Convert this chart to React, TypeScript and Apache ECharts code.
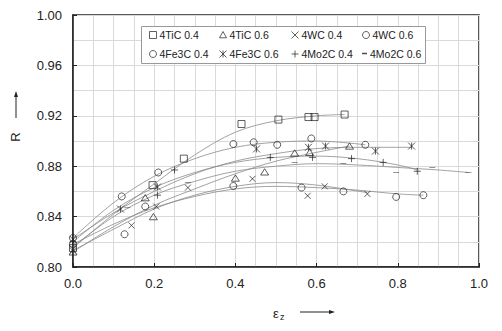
import React, { useEffect, useRef } from "react";
import * as echarts from "echarts";

const FONT = "Liberation Sans, Arial, sans-serif";

const seriesNames = ["4TiC 0.4", "4TiC 0.6", "4WC 0.4", "4WC 0.6", "4Fe3C 0.4", "4Fe3C 0.6", "4Mo2C 0.4", "4Mo2C 0.6"];

// measured points (x = strain, y = R)
const tic04X = [0, 0.196, 0.273, 0.415, 0.506, 0.58, 0.595, 0.669];
const tic04Y = [0.815, 0.865, 0.886, 0.9135, 0.917, 0.919, 0.919, 0.921];
const tic06X = [0, 0.178, 0.198, 0.4, 0.472, 0.546, 0.583, 0.681];
const tic06Y = [0.812, 0.855, 0.84, 0.8706, 0.8755, 0.8905, 0.891, 0.896];
const wc04X = [0, 0.144, 0.205, 0.283, 0.442, 0.578, 0.62, 0.725];
const wc04Y = [0.813, 0.833, 0.848, 0.863, 0.87, 0.8565, 0.864, 0.858];
const wc06X = [0, 0.12, 0.21, 0.395, 0.445, 0.503, 0.587, 0.72];
const wc06Y = [0.823, 0.856, 0.875, 0.8976, 0.899, 0.897, 0.902, 0.897];
const fe04X = [0, 0.127, 0.178, 0.395, 0.563, 0.666, 0.796, 0.863];
const fe04Y = [0.818, 0.826, 0.848, 0.8643, 0.863, 0.86, 0.8556, 0.857];
const fe06X = [0, 0.117, 0.208, 0.452, 0.58, 0.622, 0.745, 0.834];
const fe06Y = [0.822, 0.846, 0.8635, 0.8937, 0.895, 0.896, 0.892, 0.896];
const mo04X = [0, 0.208, 0.25, 0.486, 0.59, 0.686, 0.764, 0.848];
const mo04Y = [0.82, 0.857, 0.877, 0.887, 0.887, 0.886, 0.883, 0.876];
const mo06X = [0, 0.134, 0.283, 0.546, 0.666, 0.796, 0.885, 0.974];
const mo06Y = [0.816, 0.847, 0.867, 0.883, 0.882, 0.875, 0.879, 0.875];

// trend curves
const trTic04X = [0, 0.1, 0.2, 0.3, 0.4, 0.5, 0.6, 0.669];
const trTic04Y = [0.815, 0.842, 0.866, 0.889, 0.907, 0.916, 0.92, 0.921];
const trTic06X = [0, 0.1, 0.2, 0.3, 0.4, 0.5, 0.6, 0.681];
const trTic06Y = [0.812, 0.832, 0.849, 0.862, 0.874, 0.884, 0.891, 0.896];
const trWc04X = [0, 0.1, 0.2, 0.3, 0.4, 0.5, 0.6, 0.725];
const trWc04Y = [0.813, 0.83, 0.846, 0.857, 0.864, 0.867, 0.865, 0.859];
const trWc06X = [0, 0.1, 0.2, 0.3, 0.4, 0.5, 0.6, 0.72];
const trWc06Y = [0.823, 0.851, 0.872, 0.886, 0.895, 0.899, 0.9, 0.897];
const trFe04X = [0, 0.1, 0.2, 0.3, 0.4, 0.5, 0.6, 0.7, 0.8, 0.863];
const trFe04Y = [0.818, 0.834, 0.847, 0.856, 0.862, 0.864, 0.863, 0.861, 0.858, 0.857];
const trFe06X = [0, 0.1, 0.2, 0.3, 0.4, 0.5, 0.6, 0.7, 0.834];
const trFe06Y = [0.822, 0.843, 0.86, 0.874, 0.884, 0.89, 0.894, 0.895, 0.895];
const trMo04X = [0, 0.1, 0.2, 0.3, 0.4, 0.5, 0.6, 0.7, 0.8, 0.848];
const trMo04Y = [0.82, 0.845, 0.863, 0.875, 0.883, 0.887, 0.888, 0.886, 0.881, 0.877];
const trMo06X = [0, 0.1, 0.2, 0.3, 0.4, 0.5, 0.6, 0.7, 0.8, 0.9, 0.974];
const trMo06Y = [0.816, 0.84, 0.857, 0.868, 0.876, 0.88, 0.882, 0.881, 0.879, 0.877, 0.875];

const xTicks = [0, 0.2, 0.4, 0.6, 0.8, 1.0];
const yTicks = [0.8, 0.84, 0.88, 0.92, 0.96, 1.0];

const SQ = "path://M0,0L10,0L10,10L0,10Z";
const TRI = "path://M5,0L10,9L0,9Z";
const XS = "path://M0,0L10,10M10,0L0,10";
const AST = "path://M0,0L10,10M10,0L0,10M5,0L5,10";
const PLUS = "path://M5,0L5,10M0,5L10,5";
const DASH = "path://M0,0L10,0L10,3L0,3Z";

const pts = [
  [tic04X, tic04Y], [tic06X, tic06Y], [wc04X, wc04Y], [wc06X, wc06Y],
  [fe04X, fe04Y], [fe06X, fe06Y], [mo04X, mo04Y], [mo06X, mo06Y],
];
const trends = [
  [trTic04X, trTic04Y], [trTic06X, trTic06Y], [trWc04X, trWc04Y], [trWc06X, trWc06Y],
  [trFe04X, trFe04Y], [trFe06X, trFe06Y], [trMo04X, trMo04Y], [trMo06X, trMo06Y],
];
const symbols: any[] = [SQ, TRI, XS, "circle", "circle", AST, PLUS, DASH];
const sizes: any[] = [7, [8, 7], 6, 7, 7, 7, 7, [6, 2]];

// legend layout (columns and rows of the boxed legend)
const legendCols = [147, 217, 289, 360];
const legendRows = [29, 48];

const zip = (xs: number[], ys: number[]) => xs.map((x, i) => [x, ys[i]]);

export default function App() {
  const ref = useRef<HTMLDivElement>(null);
  useEffect(() => {
    if (!ref.current) return;
    const chart = echarts.init(ref.current, null, { renderer: "svg" });
    const ink = "#222";
    const gridColor = "#d9d9d9";
    const series: any[] = [];
    trends.forEach(([xs, ys], i) => {
      series.push({
        type: "line",
        name: "trend" + i,
        data: zip(xs, ys),
        smooth: 0.35,
        showSymbol: false,
        symbol: "none",
        silent: true,
        z: 2,
        lineStyle: { color: "#8a8a8a", width: 0.8 },
      });
    });
    pts.forEach(([xs, ys], i) => {
      const isDash = i === 7;
      series.push({
        type: "scatter",
        name: seriesNames[i],
        data: zip(xs, ys),
        symbol: symbols[i],
        symbolSize: sizes[i],
        symbolKeepAspect: true,
        z: 3,
        itemStyle: isDash
          ? { color: ink, borderColor: ink, borderWidth: 0 }
          : { color: "none", borderColor: ink, borderWidth: 0.9 },
      });
    });
    const legends = seriesNames.map((name, i) => {
      const isDash = i === 7;
      return {
        data: [name],
        left: legendCols[i % 4] + (isDash ? 2 : 0),
        top: legendRows[Math.floor(i / 4)],
        padding: 0,
        itemGap: 0,
        itemWidth: isDash ? 5 : 7,
        itemHeight: isDash ? 2 : 7,
        z: 5,
        selectedMode: false,
        itemStyle: { borderWidth: isDash ? 0 : 0.9 },
        textStyle: { fontSize: 10.5, color: ink, fontFamily: FONT, padding: [0, 0, 0, -2] },
      };
    });
    chart.setOption({
      animation: false,
      grid: {
        left: 73, right: 23, top: 15, bottom: 64,
        show: true, borderColor: ink, borderWidth: 1.5, backgroundColor: "transparent",
      },
      xAxis: {
        type: "value", min: 0, max: 1, interval: 0.2,
        axisLine: { show: true, onZero: false, lineStyle: { color: ink, width: 1.5 } },
        axisTick: { show: true, inside: true, length: 4, lineStyle: { color: ink } },
        axisLabel: {
          margin: 10, fontSize: 13, color: ink, fontFamily: FONT,
          formatter: (v: number) => {
            const t = xTicks.find((k) => Math.abs(k - v) < 1e-6);
            return t === undefined ? "" : t.toFixed(1);
          },
        },
        splitLine: { show: true, lineStyle: { color: gridColor, width: 1 } },
        minorTick: { show: false, splitNumber: 4 },
        minorSplitLine: { show: true, lineStyle: { color: gridColor, width: 1 } },
      },
      yAxis: {
        type: "value", min: 0.8, max: 1.0, interval: 0.04,
        axisLine: { show: true, onZero: false, lineStyle: { color: ink, width: 1.5 } },
        axisTick: { show: true, inside: true, length: 4, lineStyle: { color: ink } },
        axisLabel: {
          margin: 11, fontSize: 13, color: ink, fontFamily: FONT,
          formatter: (v: number) => {
            const t = yTicks.find((k) => Math.abs(k - v) < 1e-6);
            return t === undefined ? "" : t.toFixed(2);
          },
        },
        splitLine: { show: true, lineStyle: { color: gridColor, width: 1 } },
        minorTick: { show: false, splitNumber: 2 },
        minorSplitLine: { show: true, lineStyle: { color: gridColor, width: 1 } },
      },
      legend: legends,
      graphic: [
        { type: "rect", z: 4, shape: { x: 141.5, y: 26.5, width: 284, height: 37 },
          style: { fill: "#fff", stroke: "#999", lineWidth: 1 } },
        { type: "text", x: 15, y: 137, rotation: Math.PI / 2,
          style: { text: "R", fontSize: 13, fontFamily: FONT, fill: ink, align: "center", verticalAlign: "middle" } },
        { type: "line", shape: { x1: 16, y1: 118, x2: 16, y2: 96 }, style: { stroke: ink, lineWidth: 1 } },
        { type: "polygon", shape: { points: [[16, 91], [14, 97], [18, 97]] }, style: { fill: ink } },
        { type: "text", x: 273, y: 313,
          style: { text: "ε", fontSize: 13, fontFamily: FONT, fill: ink, align: "left", verticalAlign: "middle" } },
        { type: "text", x: 280, y: 317,
          style: { text: "z", fontSize: 9, fontFamily: FONT, fill: ink, align: "left", verticalAlign: "middle" } },
        { type: "line", shape: { x1: 300, y1: 312, x2: 330, y2: 312 }, style: { stroke: ink, lineWidth: 1 } },
        { type: "polygon", shape: { points: [[335, 312], [329, 310], [329, 314]] }, style: { fill: ink } },
      ],
      series,
    });
    return () => chart.dispose();
  }, []);
  return <div ref={ref} style={{ width: 502, height: 331, position: "absolute", left: 0, top: 0 }} />;
}
